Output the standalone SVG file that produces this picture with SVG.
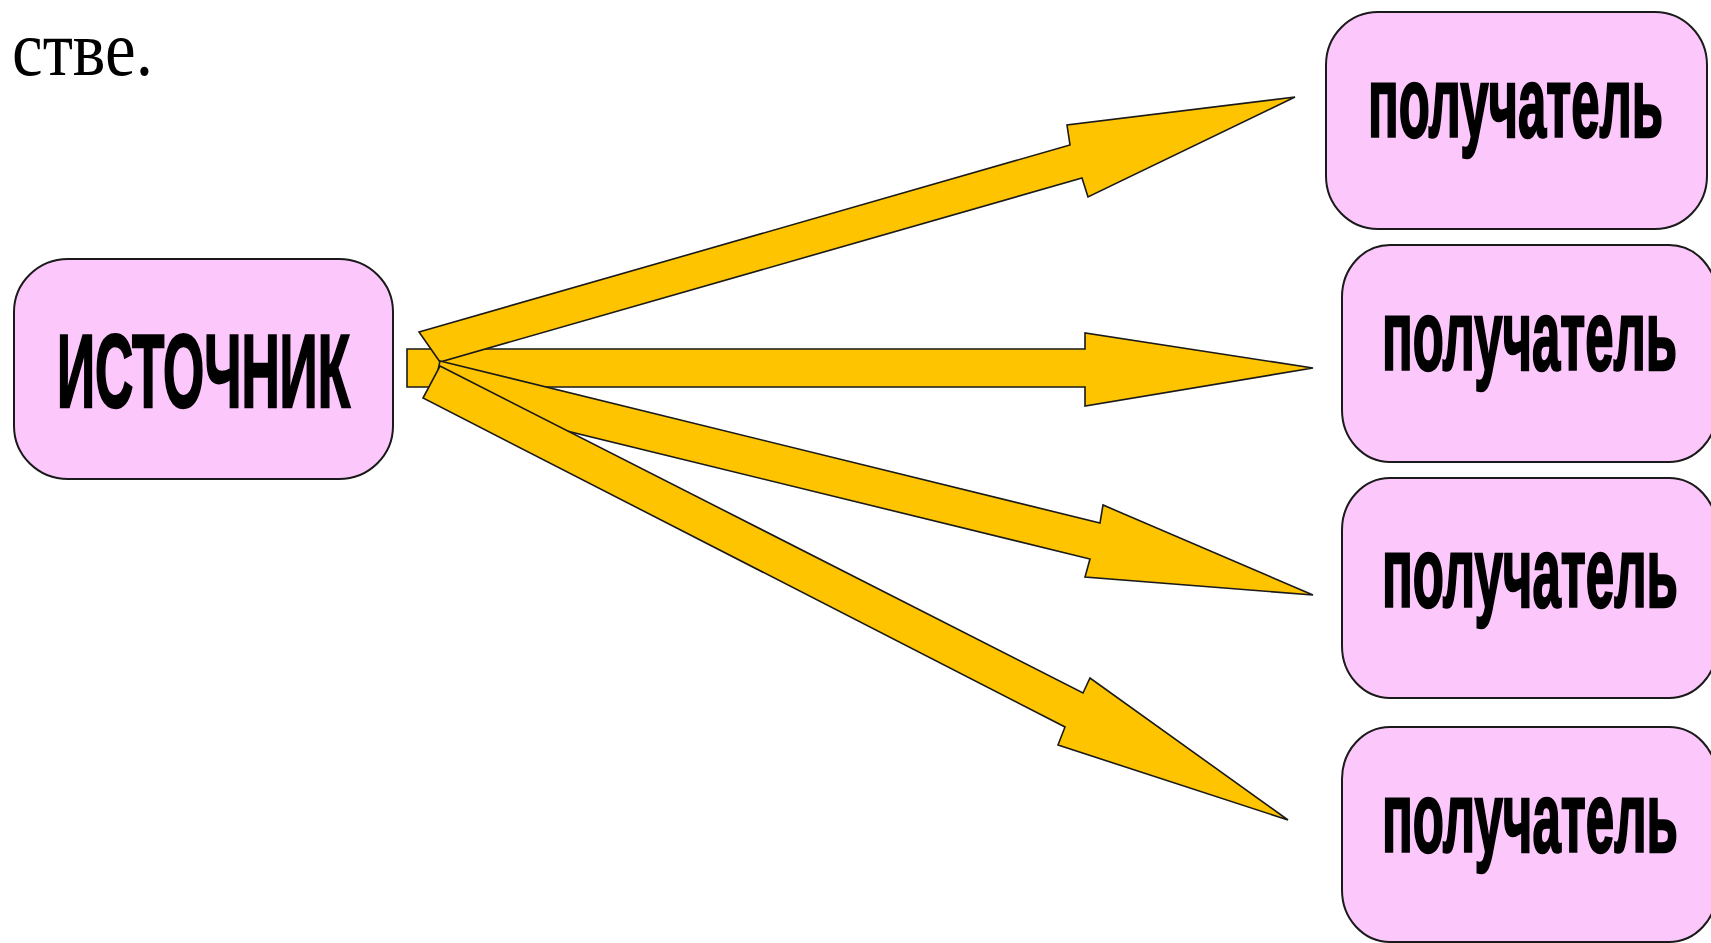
<svg xmlns="http://www.w3.org/2000/svg" width="1711" height="943" viewBox="0 0 1711 943">
  <style>
    .node { fill: #FCC8FC; stroke: #1a1a1a; stroke-width: 2; }
    .lbl { font-family: "Liberation Sans", Arial, sans-serif; font-weight: bold; fill: #000; stroke: #000; stroke-width: 2.5; }
    .arrow { fill: #FFC400; stroke: #1a1a1a; stroke-width: 1.6; stroke-linejoin: miter; }
    .serif { font-family: "Liberation Serif", "Times New Roman", serif; fill: #000; }
  </style>
  <rect width="1711" height="943" fill="#ffffff"/>

  <text class="serif" x="12" y="75" font-size="78" textLength="141" lengthAdjust="spacingAndGlyphs">стве.</text>

  <g id="connectors">
    <polygon id="arrow2" class="arrow" points="407,349 1085,349 1085,333 1313,368 1085,406 1085,387 407,387"/>
    <polygon id="arrow1" class="arrow" points="419,332 1070,145 1067,125 1295,97 1088,197 1082,178 440,362"/>
    <polygon id="arrow3" class="arrow" points="440,361 1100,523 1103,505 1313,595 1085,577 1090,559 432,398"/>
    <polygon id="arrow4" class="arrow" points="440,366 1083,693 1090,678 1288,820 1058,745 1065,727 423,398"/>
  </g>

  <g id="source">
    <rect class="node" x="14" y="259" width="379" height="220" rx="54" ry="53"/>
    <text class="lbl" transform="translate(57,407) scale(0.5,1)" font-size="103" textLength="586" lengthAdjust="spacingAndGlyphs">ИСТОЧНИК</text>
  </g>

  <g id="receiver1">
    <rect class="node" x="1326" y="12" width="381" height="217" rx="52" ry="53"/>
    <text class="lbl" transform="translate(1368,137) scale(0.5,1)" font-size="100" textLength="590" lengthAdjust="spacingAndGlyphs">получатель</text>
  </g>

  <g id="receiver2">
    <rect class="node" x="1342" y="245" width="375" height="217" rx="48" ry="52"/>
    <text class="lbl" transform="translate(1382,370) scale(0.5,1)" font-size="100" textLength="590" lengthAdjust="spacingAndGlyphs">получатель</text>
  </g>

  <g id="receiver3">
    <rect class="node" x="1342" y="478" width="375" height="220" rx="48" ry="52"/>
    <text class="lbl" transform="translate(1382,607) scale(0.5,1)" font-size="100" textLength="592" lengthAdjust="spacingAndGlyphs">получатель</text>
  </g>

  <g id="receiver4">
    <rect class="node" x="1342" y="727" width="375" height="215" rx="48" ry="52"/>
    <text class="lbl" transform="translate(1382,852) scale(0.5,1)" font-size="100" textLength="592" lengthAdjust="spacingAndGlyphs">получатель</text>
  </g>
</svg>
